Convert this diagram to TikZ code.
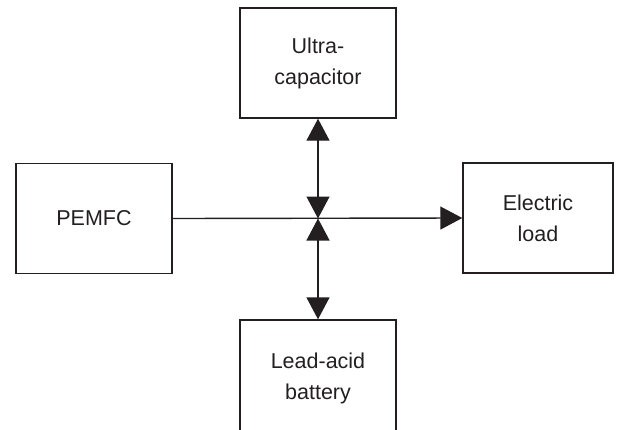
\documentclass[tikz,border=0pt]{standalone}
\usepackage{fontspec}
\setmainfont{Liberation Sans}
\usetikzlibrary{arrows.meta}
\definecolor{ink}{HTML}{231F20}
\begin{document}
\begin{tikzpicture}[x=1pt,y=-1pt,
  blk/.style={draw=ink,line width=1.4pt,minimum width=156pt,minimum height=110pt,inner sep=0pt,
    align=center,text=ink,font=\fontsize{21.5}{31}\selectfont},
  conn/.style={draw=ink,line width=1.4pt}]
\useasboundingbox (0,0) rectangle (621,429);
\clip (0,0) rectangle (621,429);
\node[blk] (uc) at (318,63) {Ultra-\\capacitor};
\node[blk] (pem) at (94,218.5) {PEMFC};
\node[blk,minimum width=150pt] (load) at (538,218) {Electric\\load};
\node[blk,minimum height=116pt] (bat) at (318,378) {Lead-acid\\battery};
\coordinate (j) at (318,218.5);
\draw[conn,-{Triangle[length=22pt,width=23pt]}] (pem.east) -- (load.west);
\draw[conn,{Triangle[length=22pt,width=23pt]}-{Triangle[length=22pt,width=23pt]}] (uc.south) -- (j);
\draw[conn,{Triangle[length=22pt,width=23pt]}-{Triangle[length=22pt,width=23pt]}] (j) -- (bat.north);
\end{tikzpicture}
\end{document}
